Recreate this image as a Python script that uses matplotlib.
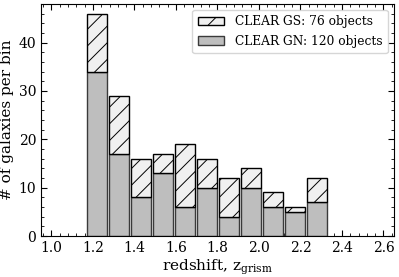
import numpy as np
import matplotlib
matplotlib.use('Agg')
from matplotlib import pyplot as plt
from matplotlib.ticker import AutoMinorLocator, MultipleLocator

# counts per redshift bin
gn_counts = [34, 17, 8, 13, 6, 10, 4, 10, 6, 5, 7]
gs_counts = [12, 12, 8, 4, 13, 6, 8, 4, 3, 1, 5]
z_lo, z_hi = 1.165, 2.334
gn_label = 'CLEAR GN: 120 objects'
gs_label = 'CLEAR GS: 76 objects'

plt.rcParams['font.family'] = 'DejaVu Serif'
plt.rcParams['mathtext.fontset'] = 'dejavuserif'
plt.rcParams['hatch.linewidth'] = 0.7

edges = np.linspace(z_lo, z_hi, len(gn_counts) + 1)
width = np.diff(edges)
centers = edges[:-1] + width / 2
rwidth = 0.89

fig = plt.figure(figsize=(3.99, 2.77), dpi=100)
ax = fig.add_axes([0.103, 0.148, 0.884, 0.838])

ax.bar(centers, gn_counts, width=width * rwidth, color='#bebebe', edgecolor='#3a3a3a',
       linewidth=1.0, label=gn_label, zorder=2)
ax.bar(centers, gs_counts, bottom=gn_counts, width=width * rwidth, color='#f0f0f0',
       edgecolor='black', hatch='//', linewidth=1.0, label=gs_label, zorder=2)

ax.set_xlim(0.95, 2.65)
ax.set_ylim(0, 48)
ax.xaxis.set_major_locator(MultipleLocator(0.2))
ax.yaxis.set_major_locator(MultipleLocator(10))
ax.xaxis.set_minor_locator(AutoMinorLocator(5))
ax.yaxis.set_minor_locator(AutoMinorLocator(5))
ax.tick_params(which='both', direction='in', top=True, right=True, labelsize=10)
ax.tick_params(which='major', length=4)
ax.tick_params(which='minor', length=2)
ax.set_xticklabels(['{:.1f}'.format(t) for t in ax.get_xticks()])

ax.set_xlabel(r'redshift, z$_{\rm grism}$', fontsize=11, labelpad=2)
ax.set_ylabel('# of galaxies per bin', fontsize=11, labelpad=3)

handles, labels = ax.get_legend_handles_labels()
ax.legend(handles[::-1], labels[::-1], loc='upper right', fontsize=8.8,
          handlelength=2.1, handletextpad=0.9, borderpad=0.45, labelspacing=0.5)

fig.savefig('out.png', dpi=100)
